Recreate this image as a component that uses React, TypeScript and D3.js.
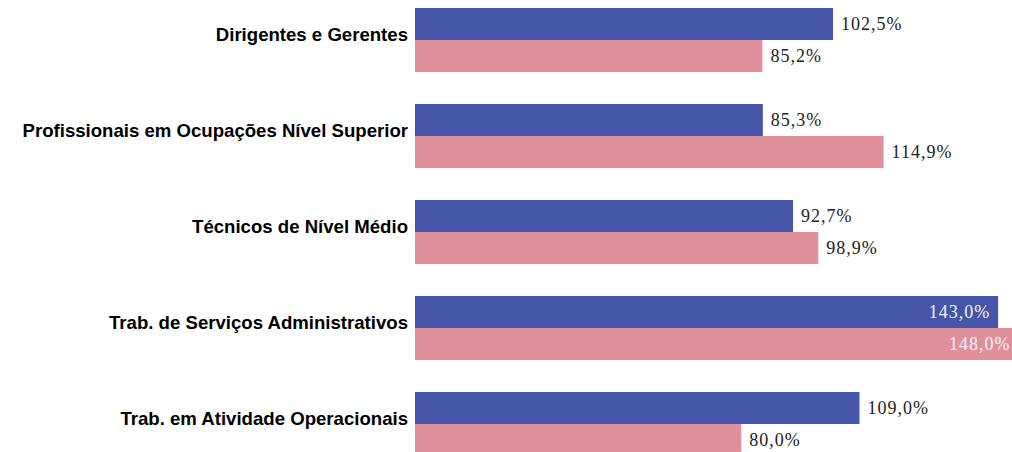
import React from "react";
import * as d3 from "d3";

const categories = [
  "Dirigentes e Gerentes",
  "Profissionais em Ocupações Nível Superior",
  "Técnicos de Nível Médio",
  "Trab. de Serviços Administrativos",
  "Trab. em Atividade Operacionais",
];
const seriesA = [102.5, 85.3, 92.7, 143.0, 109.0];
const seriesB = [85.2, 114.9, 98.9, 148.0, 80.0];
const seriesKeys = ["A", "B"];
const colors = ["#4555A8", "#E08F9D"];

const W = 1012;
const H = 452;

const fmt = (v: number) => v.toFixed(1).replace(".", ",") + "%";

export default function App() {
  const y = d3
    .scaleBand<string>()
    .domain(categories)
    .range([-8, 472])
    .paddingInner(1 / 3)
    .paddingOuter(1 / 6);
  const yInner = d3.scaleBand<string>().domain(seriesKeys).range([0, y.bandwidth()]);
  const x = d3.scaleLinear().domain([0, 100]).range([415, 822.8]);
  const data = [seriesA, seriesB];

  return (
    <svg
      width={W}
      height={H}
      style={{ position: "fixed", left: 0, top: 0, background: "#fff" }}
    >
      {categories.map((c, i) => {
        const y0 = y(c)!;
        return (
          <g key={c}>
            <text
              x={408}
              y={y0 + y.bandwidth() / 2 - 6}
              textAnchor="end"
              dominantBaseline="central"
              fontFamily="'Liberation Sans', Arial, sans-serif"
              fontWeight="bold"
              fontSize={18.6}
              fill="#000"
            >
              {c}
            </text>
            {seriesKeys.map((k, j) => {
              const v = data[j][i];
              const by = y0 + yInner(k)!;
              const bh = yInner.bandwidth();
              const xe = x(v);
              const inside = v > 140;
              return (
                <g key={k}>
                  <rect x={x(0)} y={by} width={xe - x(0)} height={bh} fill={colors[j]} />
                  <text
                    x={inside ? xe - 8 : xe + 8}
                    y={by + bh / 2}
                    textAnchor={inside ? "end" : "start"}
                    dominantBaseline="central"
                    fontFamily="'Liberation Serif', 'DejaVu Serif', serif"
                    fontSize={18}
                    letterSpacing={1}
                    fill={inside ? "#f4f4f4" : "#222"}
                  >
                    {fmt(v)}
                  </text>
                </g>
              );
            })}
          </g>
        );
      })}
    </svg>
  );
}
